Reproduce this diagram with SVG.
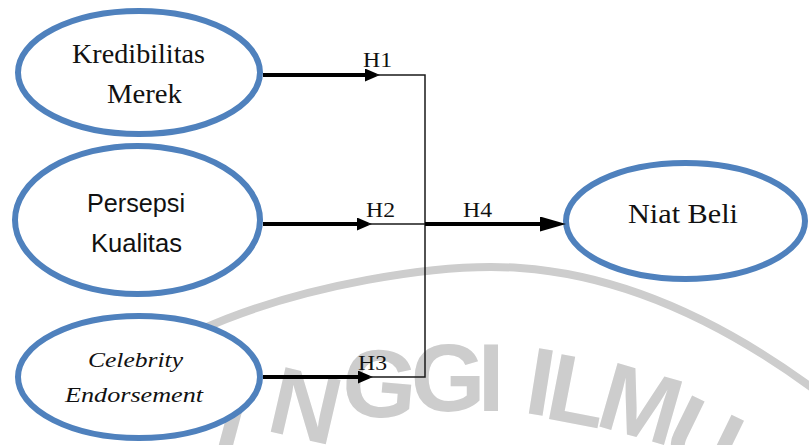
<svg xmlns="http://www.w3.org/2000/svg" width="809" height="445" viewBox="0 0 809 445">
  <style>
    .node { fill: #ffffff; stroke: #4f81bd; stroke-width: 6; }
    .serif { font-family: "Liberation Serif", "Times New Roman", serif; fill: #111111; }
    .sans { font-family: "Liberation Sans", Arial, sans-serif; fill: #111111; }
    .thick { fill: none; stroke: #000000; stroke-width: 4; }
    .thin { fill: none; stroke: #1a1a1a; stroke-width: 1.5; }
    .lbl { font-family: "Liberation Serif", "Times New Roman", serif; font-size: 22px; fill: #111111; }
    .wm { font-family: "Liberation Sans", Arial, sans-serif; font-weight: bold; font-size: 96px; fill: #cdcdcd; text-anchor: middle; }
  </style>
  <defs>
    <marker id="head" markerUnits="userSpaceOnUse" markerWidth="16" markerHeight="14" refX="3" refY="6.5" orient="auto">
      <path d="M0,0 L15,6.5 L0,13 Z" fill="#000000"/>
    </marker>
    <marker id="headLarge" markerUnits="userSpaceOnUse" markerWidth="28" markerHeight="16" refX="6" refY="7.5" orient="auto">
      <path d="M0,0 L26,7.5 L0,15 Z" fill="#000000"/>
    </marker>
  </defs>

  <rect width="809" height="445" fill="#ffffff"/>

  <!-- faint seal watermark in the background -->
  <g id="watermark">
    <path d="M 200 330 C 300 285, 440 262, 520 268 C 620 275, 720 320, 815 390" fill="none" stroke="#cdcdcd" stroke-width="8"/>
    <text class="wm" transform="translate(234,415) rotate(15)" y="34">I</text>
    <text class="wm" transform="translate(306,405) rotate(13)" y="34">N</text>
    <text class="wm" transform="translate(380,383) rotate(5)" y="34">G</text>
    <text class="wm" transform="translate(448,377)" y="34">G</text>
    <text class="wm" transform="translate(491,377)" y="34">I</text>
    <text class="wm" transform="translate(541,381) rotate(9)" y="34">I</text>
    <text class="wm" transform="translate(578,390) rotate(11)" y="34">L</text>
    <text class="wm" transform="translate(641,403) rotate(16)" y="34">M</text>
    <text class="wm" transform="translate(704,437) rotate(26)" y="34">U</text>
  </g>

  <!-- construct nodes -->
  <g id="node-kredibilitas">
    <ellipse class="node" cx="139" cy="72.5" rx="121" ry="61.5"/>
    <text class="serif" x="72" y="63" font-size="26.5" textLength="133" lengthAdjust="spacingAndGlyphs">Kredibilitas</text>
    <text class="serif" x="107" y="103" font-size="26.5" textLength="75" lengthAdjust="spacingAndGlyphs">Merek</text>
  </g>
  <g id="node-persepsi">
    <ellipse class="node" cx="137.5" cy="220" rx="122.5" ry="74"/>
    <text class="sans" x="87" y="212" font-size="25" textLength="98" lengthAdjust="spacingAndGlyphs">Persepsi</text>
    <text class="sans" x="91" y="252" font-size="25" textLength="91" lengthAdjust="spacingAndGlyphs">Kualitas</text>
  </g>
  <g id="node-celebrity">
    <ellipse class="node" cx="139" cy="377" rx="121" ry="61"/>
    <text class="serif" x="88" y="367" font-size="22" font-style="italic" textLength="95" lengthAdjust="spacingAndGlyphs">Celebrity</text>
    <text class="serif" x="65" y="402" font-size="22" font-style="italic" textLength="138" lengthAdjust="spacingAndGlyphs">Endorsement</text>
  </g>
  <g id="node-niat">
    <ellipse class="node" cx="685.5" cy="221" rx="119.5" ry="58"/>
    <text class="serif" x="628" y="223" font-size="27" textLength="110" lengthAdjust="spacingAndGlyphs">Niat Beli</text>
  </g>

  <!-- hypothesis paths -->
  <g id="connectors">
    <path class="thick" d="M263 75 H368" marker-end="url(#head)"/>
    <path class="thick" d="M263 224 H360" marker-end="url(#head)"/>
    <path class="thick" d="M263 377 H361" marker-end="url(#head)"/>
    <path class="thin" d="M376 75 H425 V377 H369"/>
    <path class="thin" d="M368 224 H425"/>
    <path class="thick" d="M425 224 H546" stroke-width="3" marker-end="url(#headLarge)"/>
    <text class="lbl" x="363" y="67" textLength="29" lengthAdjust="spacingAndGlyphs">H1</text>
    <text class="lbl" x="366" y="217" textLength="29" lengthAdjust="spacingAndGlyphs">H2</text>
    <text class="lbl" x="358" y="370" textLength="29" lengthAdjust="spacingAndGlyphs">H3</text>
    <text class="lbl" x="463" y="217" textLength="29" lengthAdjust="spacingAndGlyphs">H4</text>
  </g>
</svg>
